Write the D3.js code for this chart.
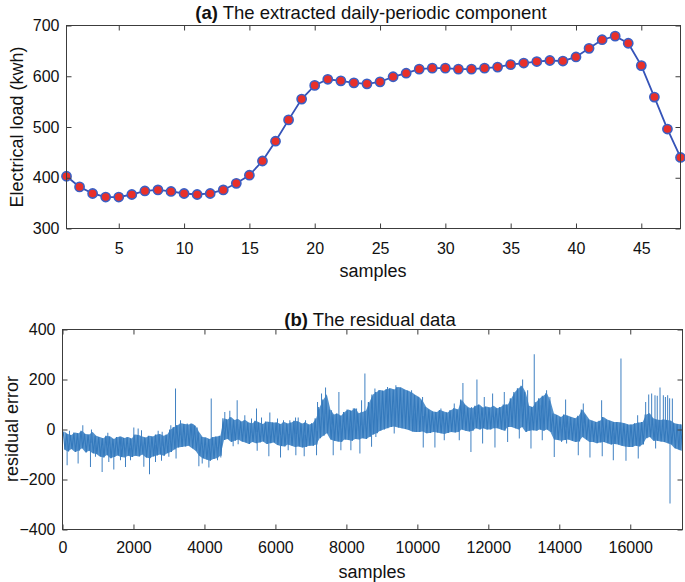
<!DOCTYPE html>
<html>
<head>
<meta charset="utf-8">
<script src="https://cdn.jsdelivr.net/npm/d3@7"></script>
<style>
  body { margin: 0; background: #fff; }
  svg { display: block; font-family: "Liberation Sans", Arial, Helvetica, sans-serif; }
</style>
</head>
<body>
<svg id="chart" width="685" height="582"></svg>
<script>
// ---- Data: (a) daily-periodic component (48 half-hour samples) ----
const periodicSamples = d3.range(1, 49);
const periodicLoad = [403, 382, 369, 362, 362, 367, 374, 376, 373, 369,
                      367, 369, 376, 389, 405, 433, 472, 514, 555, 582,
                      594, 591, 587, 585, 589, 599, 606, 614, 616, 616,
                      614, 614, 616, 618, 623, 626, 629, 631, 630, 638,
                      655, 672, 679, 665, 621, 559, 496, 440];
const periodicXTicks = [5, 10, 15, 20, 25, 30, 35, 40, 45];
const periodicYTicks = [300, 400, 500, 600, 700];

// ---- Data: (b) residual data ----
// typical band (upper / lower edge) per 100-sample block
const residualBlock = 100;
const residualLength = 17472;
const bandHigh = [
  -8, -18, -22, -12, -15, -5, -18, -20, -10, -25,
  -30, -35, -25, -28, -38, -30, -28, -34, -30, -36,
  -20, -22, -28, -32, -25, -28, -20, -18, -25, -20,
  0, 10, 18, 25, 22, 20, 24, 15, -10, -30,
  -32, -38, -30, -28, -25, 45, 40, 50, 38, 42,
  32, 38, 28, 25, 35, 28, 22, 32, 30, 28,
  28, 22, 30, 24, 28, 35, 32, 24, 28, 20,
  25, 45, 90, 120, 140, 80, 60, 64, 55, 70,
  80, 75, 85, 65, 70, 75, 110, 140, 150, 158,
  155, 162, 165, 160, 170, 168, 160, 155, 148, 138,
  130, 115, 90, 80, 72, 70, 78, 72, 68, 78,
  85, 80, 120, 100, 88, 85, 95, 100, 88, 92,
  88, 95, 85, 90, 100, 100, 125, 150, 165, 175,
  150, 95, 90, 110, 125, 135, 145, 115, 64, 58,
  50, 60, 55, 50, 45, 55, 80, 60, 40, 35,
  30, 35, 50, 40, 35, 30, 30, 28, 25, 20,
  20, 25, 28, 30, 60, 65, 45, 40, 38, 40,
  38, 35, 25, 22, 20
];
const bandLow = [
  -80, -88, -78, -90, -85, -75, -92, -85, -95, -98,
  -108, -112, -102, -115, -110, -104, -110, -112, -105, -110,
  -105, -108, -100, -112, -115, -108, -104, -100, -105, -95,
  -90, -80, -72, -70, -68, -65, -75, -85, -105, -115,
  -120, -125, -118, -115, -105, -42, -38, -50, -45, -40,
  -48, -52, -58, -50, -55, -52, -48, -58, -55, -52,
  -62, -66, -68, -60, -65, -70, -68, -72, -70, -65,
  -65, -60, -35, -25, -15, -40, -45, -48, -50, -40,
  -42, -45, -38, -40, -35, -38, -30, -20, -15, -5,
  0, 5, 10, 12, 8, 5, 2, -2, -8, -10,
  -10, -8, -15, -14, -10, -12, -15, -18, -14, -10,
  -12, -10, 0, -5, -8, -5, 5, 0, 5, 0,
  0, 5, 5, 0, -5, 10, 10, 5, 0, 10,
  -10, -5, -3, -5, 0, -5, 0, -10, -40, -42,
  -45, -42, -40, -45, -50, -48, -30, -40, -50, -50,
  -55, -52, -50, -55, -60, -58, -60, -65, -68, -70,
  -70, -65, -68, -60, -35, -30, -45, -45, -48, -50,
  -55, -60, -75, -80, -85
];
// isolated spikes: sample index and value
const spikeSample = [
  196, 572, 816, 1277, 1662, 2010, 2132, 2226, 2696, 2809, 3053, 3185, 3326, 3514, 3674, 3796, 4191,
  130, 440, 788, 929, 1117, 1305, 1446, 1634, 1775, 1916, 2292, 2452, 2621, 2790, 2997, 3200, 3843, 3937, 4125, 4369,
  4574, 4715, 4922, 5138, 5326, 5467, 5608, 5843, 6059, 6228, 6407, 6567, 6642, 6849, 7187, 7300, 7413, 7582, 7789, 7958, 8193, 8287, 8428, 8522, 8804,
  4461, 4809, 4950, 5486, 5815, 6144, 6360, 6576, 6811, 7159, 7629, 7845, 8127, 8381, 8710,
  8925, 9160, 9395, 9630, 9837, 10147, 10664, 11040, 11284, 11530, 11679, 11886, 12121, 12450, 12732, 12967, 13108,
  8831, 9348, 9912, 10166, 10495, 10758, 11181, 11510, 11839, 12187, 12544, 12873, 13202,
  13294, 13454, 13548, 13642, 13736, 14178, 14441, 14676, 15193, 15738, 16208, 16434, 16520, 16603, 16697, 16760, 16838, 16932, 16990, 17054, 17110, 17186,
  13520, 13858, 14065, 14206, 14535, 14864, 15210, 15522, 15879, 16225, 16715, 17120, 17402
];
const spikeValue = [
  -5, 17, 0, -13, -32, 8, 4, -3, -5, -9, 17, 164, 37, 24, 21, 8, 124,
  -143, -136, -150, -109, -170, -130, -160, -123, -150, -123, -149, -179, -130, -125, -109, -116, -147, -136, -152, -123,
  70, 75, 117, 57, 44, 84, 48, 68, 44, 37, 37, 48, 48, 37, 110, 144, 168, 77, 150, 64, 84, 84, 117, 224, 164,
  -112, -67, -59, -85, -107, -112, -83, -103, -107, -103, -103, -83, -83, -96, -69,
  157, 170, 177, 157, 157, 130, 84, 104, 186, 90, 200, 130, 144, 150, 117, 200, 157,
  -30, -16, -9, -72, -72, -43, -43, -90, -56, -72, -50, -36, -76,
  301, 97, 130, 157, 130, 120, 44, 104, 117, 284, 57, 110, 140, 144, 137, 135, 168, 137, 130, 137, 125, 124,
  -43, -110, -50, -56, -103, -112, -107, -123, -125, -116, -76, -296, -83
];
const residualXTicks = [0, 2000, 4000, 6000, 8000, 10000, 12000, 14000, 16000];
const residualYTicks = [-400, -200, 0, 200, 400];

// ---- Drawing ----
const svg = d3.select("#chart");
const frameColor = "#3c3c3c";
const tickLen = 5;

function drawFrame(g, x, y, xTicks, yTicks, padX) {
  const [x0, x1] = x.range();
  const [y0, y1] = y.range();
  g.append("g").attr("transform", `translate(0,${y0})`)
    .call(d3.axisBottom(x).tickValues(xTicks).tickSize(-tickLen).tickPadding(padX).tickFormat(d3.format("d")))
    .call(a => a.select(".domain").remove());
  g.append("g").attr("transform", `translate(0,${y1})`)
    .call(d3.axisTop(x).tickValues(xTicks).tickSize(-tickLen).tickFormat(""))
    .call(a => a.select(".domain").remove());
  g.append("g").attr("transform", `translate(${x0},0)`)
    .call(d3.axisLeft(y).tickValues(yTicks).tickSize(-tickLen).tickPadding(7).tickFormat(d3.format("d")))
    .call(a => a.select(".domain").remove());
  g.append("g").attr("transform", `translate(${x1},0)`)
    .call(d3.axisRight(y).tickValues(yTicks).tickSize(-tickLen).tickFormat(""))
    .call(a => a.select(".domain").remove());
  g.selectAll(".tick line").attr("stroke", frameColor).attr("stroke-width", 1);
  g.selectAll(".tick text").attr("fill", "#111").style("font-size", "16px")
    .style("font-family", '"Liberation Sans", Arial, sans-serif');
  g.append("rect").attr("x", x0).attr("y", y1).attr("width", x1 - x0).attr("height", y0 - y1)
    .attr("fill", "none").attr("stroke", frameColor).attr("stroke-width", 1);
}

function title(g, cx, cy, bold, rest) {
  const t = g.append("text").attr("x", cx).attr("y", cy).attr("text-anchor", "middle")
    .style("font-size", "18.5px").attr("fill", "#111");
  t.append("tspan").attr("font-weight", "bold").text(bold);
  t.append("tspan").text(" " + rest);
}

// ---------- Panel (a) ----------
const ga = svg.append("g");
const xa = d3.scaleLinear().domain([1, 48]).range([66.5, 680.5]);
const ya = d3.scaleLinear().domain([300, 700]).range([228.5, 25.5]);

const lineA = d3.line().x((d, i) => xa(periodicSamples[i])).y(d => ya(d));
ga.append("path").datum(periodicLoad).attr("d", lineA)
  .attr("fill", "none").attr("stroke", "#3553b8").attr("stroke-width", 1.8);
ga.selectAll("circle").data(periodicLoad).join("circle")
  .attr("cx", (d, i) => xa(periodicSamples[i])).attr("cy", d => ya(d)).attr("r", 4.6)
  .attr("fill", "#e8302a").attr("stroke", "#3b5fc4").attr("stroke-width", 1.6);

drawFrame(ga, xa, ya, periodicXTicks, periodicYTicks, 14);
title(ga, 371, 19, "(a)", "The extracted daily-periodic component");
ga.append("text").attr("x", 373).attr("y", 277).attr("text-anchor", "middle")
  .style("font-size", "18px").attr("fill", "#111").text("samples");
ga.append("text").attr("transform", "translate(23,127) rotate(-90)").attr("text-anchor", "middle")
  .style("font-size", "18px").attr("fill", "#111").text("Electrical load (kwh)");

// ---------- Panel (b) ----------
const gb = svg.append("g");
const xb = d3.scaleLinear().domain([0, residualLength]).range([62.5, 682.5]);
const yb = d3.scaleLinear().domain([-400, 400]).range([529.5, 329.5]);
const blockX = i => Math.min(i * residualBlock + residualBlock / 2, residualLength);

const bandIdx = d3.range(bandHigh.length);
gb.append("path").datum(bandIdx)
  .attr("d", d3.area().x(i => xb(blockX(i))).y0(i => yb(bandLow[i])).y1(i => yb(bandHigh[i])))
  .attr("fill", "#5592cc");
const trace = [];
bandIdx.forEach(i => {
  trace.push([i * residualBlock + 20, bandHigh[i]]);
  trace.push([i * residualBlock + 70, bandLow[i]]);
});
gb.append("path").datum(trace)
  .attr("d", d3.line().x(d => xb(Math.min(d[0], residualLength))).y(d => yb(d[1])))
  .attr("fill", "none").attr("stroke", "#3479bc").attr("stroke-width", 1.1);
const bandMid = s => {
  const i = Math.min(Math.floor(s / residualBlock), bandHigh.length - 1);
  return (bandHigh[i] + bandLow[i]) / 2;
};
gb.selectAll("line.spike").data(spikeSample).join("line").attr("class", "spike")
  .attr("x1", s => xb(s)).attr("x2", s => xb(s))
  .attr("y1", s => yb(bandMid(s))).attr("y2", (s, i) => yb(spikeValue[i]))
  .attr("stroke", "#3f80c2").attr("stroke-width", 1);

drawFrame(gb, xb, yb, residualXTicks, residualYTicks, 12);
title(gb, 370, 326, "(b)", "The residual data");
gb.append("text").attr("x", 372).attr("y", 578).attr("text-anchor", "middle")
  .style("font-size", "18px").attr("fill", "#111").text("samples");
gb.append("text").attr("transform", "translate(18,429) rotate(-90)").attr("text-anchor", "middle")
  .style("font-size", "18px").attr("fill", "#111").text("residual error");
</script>
</body>
</html>
